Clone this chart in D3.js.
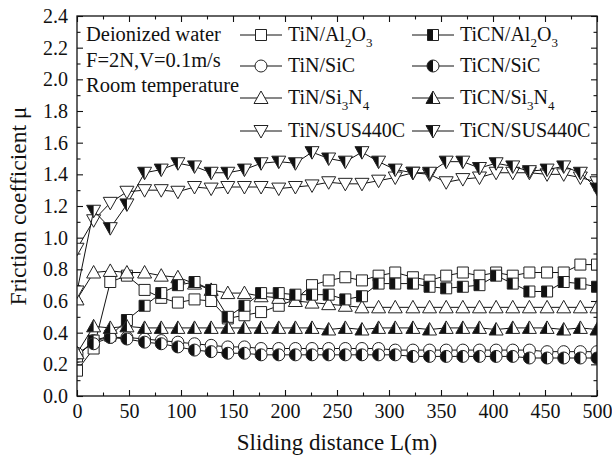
<!DOCTYPE html>
<html>
<head>
<meta charset="utf-8">
<script src="https://cdn.jsdelivr.net/npm/d3@7"></script>
<style>
  body { margin: 0; background: #fff; }
  text { font-family: "Liberation Serif", "Times New Roman", serif; fill: #111; }
</style>
</head>
<body>
<script>
// sliding distance (m) where the markers sit
const distance = [0, 16, 32, 48, 65, 81, 97, 113, 129, 145, 161, 177, 194, 210, 226, 242,
  258, 274, 290, 306, 323, 339, 355, 371, 387, 403, 419, 435, 452, 468, 484, 500];

const tinAl2O3 = [0.16, 0.30, 0.72, 0.76, 0.67, 0.62, 0.59, 0.61, 0.60, 0.49, 0.51, 0.53, 0.57, 0.61, 0.70, 0.73,
  0.75, 0.73, 0.76, 0.78, 0.75, 0.73, 0.76, 0.78, 0.76, 0.78, 0.76, 0.78, 0.78, 0.78, 0.83, 0.83];
const tinSiC = [0.25, 0.35, 0.37, 0.37, 0.36, 0.35, 0.34, 0.33, 0.32, 0.31, 0.31, 0.30, 0.30, 0.30, 0.30, 0.30,
  0.30, 0.30, 0.30, 0.29, 0.29, 0.29, 0.29, 0.29, 0.29, 0.29, 0.29, 0.29, 0.28, 0.28, 0.28, 0.28];
const tinSi3N4 = [0.61, 0.78, 0.79, 0.78, 0.78, 0.76, 0.75, 0.71, 0.67, 0.65, 0.65, 0.63, 0.62, 0.60, 0.59, 0.58,
  0.57, 0.56, 0.56, 0.56, 0.56, 0.56, 0.56, 0.56, 0.56, 0.56, 0.56, 0.56, 0.56, 0.56, 0.56, 0.56];
const tinSUS440C = [0.93, 1.11, 1.22, 1.29, 1.30, 1.30, 1.29, 1.32, 1.31, 1.32, 1.32, 1.32, 1.31, 1.32, 1.33, 1.35,
  1.34, 1.34, 1.36, 1.38, 1.41, 1.40, 1.35, 1.37, 1.38, 1.41, 1.41, 1.41, 1.40, 1.40, 1.38, 1.35];
const ticnAl2O3 = [0.25, 0.35, 0.38, 0.48, 0.57, 0.65, 0.70, 0.72, 0.67, 0.50, 0.57, 0.65, 0.65, 0.64, 0.64, 0.64,
  0.61, 0.63, 0.71, 0.71, 0.71, 0.69, 0.68, 0.69, 0.70, 0.76, 0.71, 0.66, 0.66, 0.72, 0.71, 0.69];
const ticnSiC = [0.27, 0.33, 0.37, 0.36, 0.34, 0.33, 0.31, 0.29, 0.28, 0.27, 0.27, 0.26, 0.26, 0.26, 0.26, 0.26,
  0.26, 0.26, 0.26, 0.26, 0.25, 0.25, 0.25, 0.25, 0.25, 0.25, 0.25, 0.24, 0.24, 0.24, 0.24, 0.24];
const ticnSi3N4 = [0.27, 0.44, 0.43, 0.44, 0.43, 0.43, 0.43, 0.43, 0.43, 0.43, 0.43, 0.43, 0.43, 0.43, 0.43, 0.42,
  0.43, 0.42, 0.43, 0.43, 0.43, 0.42, 0.43, 0.43, 0.43, 0.42, 0.43, 0.43, 0.43, 0.42, 0.43, 0.42];
const ticnSUS440C = [0.66, 1.17, 1.06, 1.21, 1.41, 1.43, 1.47, 1.45, 1.41, 1.41, 1.43, 1.47, 1.48, 1.47, 1.54, 1.50,
  1.48, 1.54, 1.48, 1.43, 1.41, 1.41, 1.48, 1.48, 1.44, 1.47, 1.45, 1.42, 1.43, 1.45, 1.41, 1.31];

const xTicks = [0, 50, 100, 150, 200, 250, 300, 350, 400, 450, 500];
const yTicks = [0.0, 0.2, 0.4, 0.6, 0.8, 1.0, 1.2, 1.4, 1.6, 1.8, 2.0, 2.2, 2.4];
const notes = ['Deionized water', 'F=2N,V=0.1m/s', 'Room temperature'];

// "_n" marks a subscript digit
const series = [
  { label: 'TiN/Al_2O_3', values: tinAl2O3, shape: 'square', half: false, col: 0, row: 0 },
  { label: 'TiN/SiC', values: tinSiC, shape: 'circle', half: false, col: 0, row: 1 },
  { label: 'TiN/Si_3N_4', values: tinSi3N4, shape: 'up', half: false, col: 0, row: 2 },
  { label: 'TiN/SUS440C', values: tinSUS440C, shape: 'down', half: false, col: 0, row: 3 },
  { label: 'TiCN/Al_2O_3', values: ticnAl2O3, shape: 'square', half: true, col: 1, row: 0 },
  { label: 'TiCN/SiC', values: ticnSiC, shape: 'circle', half: true, col: 1, row: 1 },
  { label: 'TiCN/Si_3N_4', values: ticnSi3N4, shape: 'up', half: true, col: 1, row: 2 },
  { label: 'TiCN/SUS440C', values: ticnSUS440C, shape: 'down', half: true, col: 1, row: 3 }
];

const W = 612, H = 459;
const m = { left: 77, right: 597, top: 16, bottom: 396 };
const serif = 'Liberation Serif, Times New Roman, serif';

const svg = d3.select('body').append('svg').attr('width', W).attr('height', H)
  .attr('font-family', serif);

const x = d3.scaleLinear().domain([0, 500]).range([m.left, m.right]);
const y = d3.scaleLinear().domain([0, 2.4]).range([m.bottom, m.top]);

// marker outlines and their left halves
const shapes = {
  square: { full: 'M-5.5,-5.5H5.5V5.5H-5.5Z', half: 'M-5.5,-5.5H0V5.5H-5.5Z' },
  circle: { full: 'M0,-6A6,6 0 1 1 0,6A6,6 0 1 1 0,-6Z', half: 'M0,-6A6,6 0 0 0 0,6Z' },
  up: { full: 'M0,-7L7,5.5L-7,5.5Z', half: 'M0,-7L0,5.5L-7,5.5Z' },
  down: { full: 'M0,7L7,-5.5L-7,-5.5Z', half: 'M0,7L0,-5.5L-7,-5.5Z' }
};

function drawMarker(g, s) {
  g.append('path').attr('d', shapes[s.shape].full).attr('fill', '#fff');
  if (s.half) g.append('path').attr('d', shapes[s.shape].half).attr('fill', '#111');
  g.append('path').attr('d', shapes[s.shape].full)
    .attr('fill', 'none').attr('stroke', '#222').attr('stroke-width', 1);
}

function addLabel(t, label, subSize) {
  let sub = false;
  label.split(/(_\d)/).filter(p => p).forEach(p => {
    if (p[0] === '_') {
      t.append('tspan').attr('font-size', subSize).attr('dy', 6).text(p[1]);
      sub = true;
    } else {
      t.append('tspan').attr('dy', sub ? -6 : 0).text(p);
      sub = false;
    }
  });
}

// axes: ticks point inward on all four sides
const fs = 20;
function styleAxis(g) {
  g.attr('font-family', serif);
  g.select('.domain').remove();
  g.selectAll('line').attr('stroke', '#111').attr('stroke-width', 1.1);
  g.selectAll('text').attr('font-size', fs).attr('fill', '#111');
}

const xMinor = d3.range(25, 500, 50);
const yMinor = d3.range(0.1, 2.4, 0.2);

svg.append('g').attr('transform', `translate(0,${m.bottom})`)
  .call(d3.axisBottom(x).tickValues(xTicks).tickSizeInner(-6).tickSizeOuter(0).tickPadding(8))
  .call(styleAxis);
svg.append('g').attr('transform', `translate(0,${m.bottom})`)
  .call(d3.axisBottom(x).tickValues(xMinor).tickSizeInner(-3.5).tickSizeOuter(0).tickFormat(''))
  .call(styleAxis);
svg.append('g').attr('transform', `translate(0,${m.top})`)
  .call(d3.axisTop(x).tickValues(xTicks).tickSizeInner(-6).tickSizeOuter(0).tickFormat(''))
  .call(styleAxis);
svg.append('g').attr('transform', `translate(0,${m.top})`)
  .call(d3.axisTop(x).tickValues(xMinor).tickSizeInner(-3.5).tickSizeOuter(0).tickFormat(''))
  .call(styleAxis);

svg.append('g').attr('transform', `translate(${m.left},0)`)
  .call(d3.axisLeft(y).tickValues(yTicks).tickSizeInner(-6).tickSizeOuter(0).tickPadding(9)
    .tickFormat(d3.format('.1f')))
  .call(styleAxis);
svg.append('g').attr('transform', `translate(${m.left},0)`)
  .call(d3.axisLeft(y).tickValues(yMinor).tickSizeInner(-3.5).tickSizeOuter(0).tickFormat(''))
  .call(styleAxis);
svg.append('g').attr('transform', `translate(${m.right},0)`)
  .call(d3.axisRight(y).tickValues(yTicks).tickSizeInner(-6).tickSizeOuter(0).tickFormat(''))
  .call(styleAxis);
svg.append('g').attr('transform', `translate(${m.right},0)`)
  .call(d3.axisRight(y).tickValues(yMinor).tickSizeInner(-3.5).tickSizeOuter(0).tickFormat(''))
  .call(styleAxis);

// data
svg.append('clipPath').attr('id', 'plot-clip')
  .append('rect').attr('x', m.left).attr('y', m.top)
  .attr('width', m.right - m.left).attr('height', m.bottom - m.top);

const plot = svg.append('g').attr('clip-path', 'url(#plot-clip)');
const line = d3.line().x((d, i) => x(distance[i])).y(d => y(d));

series.forEach(s => {
  const g = plot.append('g');
  g.append('path').datum(s.values).attr('d', line)
    .attr('fill', 'none').attr('stroke', '#111').attr('stroke-width', 1);
  g.selectAll('g.pt').data(s.values).enter().append('g')
    .attr('class', 'pt')
    .attr('transform', (d, i) => `translate(${x(distance[i])},${y(d)})`)
    .each(function () { drawMarker(d3.select(this), s); });
});

// frame
svg.append('rect').attr('x', m.left).attr('y', m.top)
  .attr('width', m.right - m.left).attr('height', m.bottom - m.top)
  .attr('fill', 'none').attr('stroke', '#111').attr('stroke-width', 1.3);

// conditions text
svg.selectAll('text.note').data(notes).enter().append('text')
  .attr('class', 'note')
  .attr('x', 86).attr('y', (d, i) => 41 + i * 25.5)
  .attr('font-size', 20.5).text(d => d);

// legend
const legendX = [240, 412];
const legendY = [35, 66, 98, 131];
series.forEach(s => {
  const lx = legendX[s.col], ly = legendY[s.row];
  const g = svg.append('g');
  g.append('line').attr('x1', lx).attr('x2', lx + 42).attr('y1', ly).attr('y2', ly)
    .attr('stroke', '#111').attr('stroke-width', 1);
  drawMarker(g.append('g').attr('transform', `translate(${lx + 21},${ly})`), s);
  const t = g.append('text').attr('x', lx + 48).attr('y', ly + 6).attr('font-size', 20);
  addLabel(t, s.label, 13);
});

// axis titles
svg.append('text')
  .attr('x', (m.left + m.right) / 2).attr('y', 450)
  .attr('text-anchor', 'middle').attr('font-size', 23)
  .text('Sliding distance L(m)');
svg.append('text')
  .attr('transform', `translate(26,${(m.top + m.bottom) / 2}) rotate(-90)`)
  .attr('text-anchor', 'middle').attr('font-size', 23.5)
  .text('Friction coefficient μ');
</script>
</body>
</html>
